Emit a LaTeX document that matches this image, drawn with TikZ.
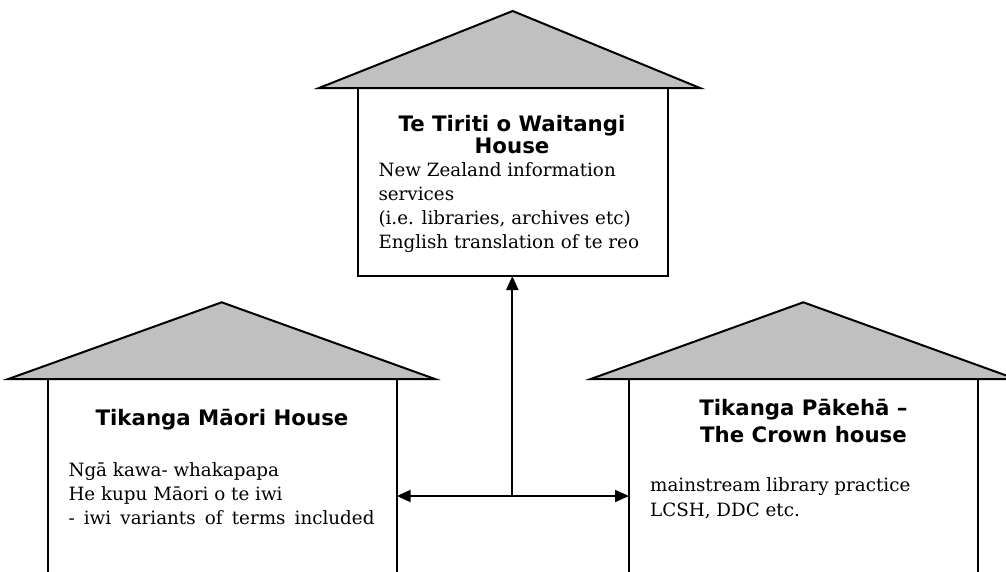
\documentclass[tikz,border=0pt]{standalone}
\usepackage{fontspec}
\setmainfont{DejaVu Serif}
\newfontfamily\headfont{DejaVu Sans}
\usetikzlibrary{arrows.meta}
\tikzset{
  roof/.style={draw=black, fill=roofgray, line width=2pt, line join=miter},
  wall/.style={draw=black, line width=2pt},
  conn/.style={draw=black, line width=2pt, -{Triangle[length=14pt,width=12pt]}},
  title/.style={inner sep=0pt, anchor=base, font=\headfont\bfseries\fontsize{21.3}{24}\selectfont},
  body/.style={inner sep=0pt, anchor=base west, font=\fontsize{18.3}{24}\selectfont},
}
\definecolor{roofgray}{RGB}{192,192,192}
\begin{document}
\begin{tikzpicture}[x=1pt,y=-1pt]
\useasboundingbox (0,0) rectangle (1006,571);
% top house
\draw[roof] (319,88) -- (512.7,11) -- (700,88) -- cycle;
\draw[wall] (357.7,88) rectangle (667.7,276);
\coordinate (tb) at (512.3,276);
\node[title] (t1) at (512,131.7) {Te Tiriti o Waitangi};
\node[title] (t2) at (512,153.3) {House};
\node[body] (b1) at (378.3,176.7) {New Zealand information};
\node[body] (b2) at (378.3,200.3) {services};
\node[body] (b3) at (378.3,224) {(i.e. libraries, archives etc)};
\node[body] (b4) at (378.3,248.3) {English translation of te reo};
% left house
\draw[roof] (8.3,379) -- (221.7,302.3) -- (435,379) -- cycle;
\draw[wall] (47.7,379) -- (47.7,575);
\draw[wall] (396.7,379) -- (396.7,575);
\coordinate (lw) at (396.7,496);
\node[title] (l1) at (222,425) {Tikanga Māori House};
\node[body] (lb1) at (68.3,476.7) {Ngā kawa- whakapapa};
\node[body] (lb2) at (68.3,500.7) {He kupu Māori o te iwi};
\node[body] (lb3) at (68.3,524.3) {\makebox[306pt][s]{- iwi variants of terms included}};
% right house
\draw[roof] (590.7,379) -- (803.3,302.3) -- (1016,379) -- cycle;
\draw[wall] (629,379) -- (629,575);
\draw[wall] (978.3,379) -- (978.3,575);
\coordinate (rw) at (629,496);
\node[title] (r1) at (803.5,415.7) {Tikanga Pākehā –};
\node[title] (r2) at (803.5,442.7) {The Crown house};
\node[body] (rb1) at (650,491.7) {mainstream library practice};
\node[body] (rb2) at (650,516) {LCSH, DDC etc.};
% connectors
\coordinate (j) at (512.3,496);
\draw[conn] (j) -- (tb);
\draw[conn] (j) -- (lw);
\draw[conn] (j) -- (rw);
\end{tikzpicture}
\end{document}
